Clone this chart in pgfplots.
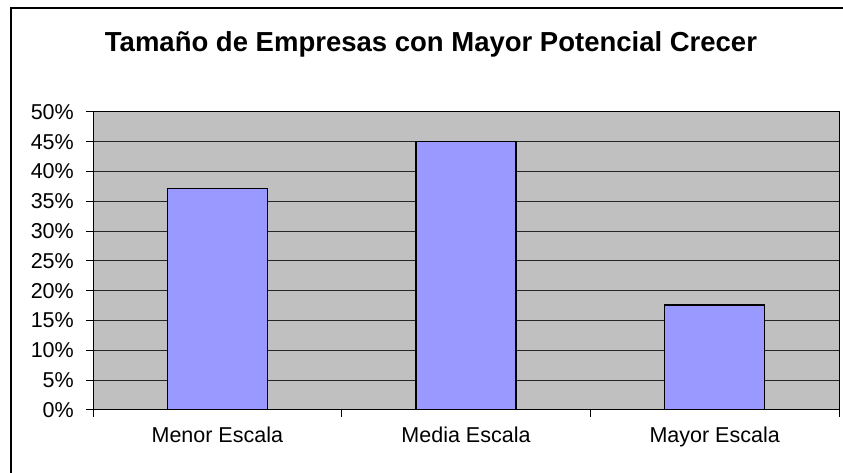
\documentclass[border=0pt]{standalone}
\usepackage{fontspec}
\setmainfont{Liberation Sans}
\usepackage{pgfplots}
\pgfplotsset{compat=1.18}
\definecolor{plotgray}{HTML}{C0C0C0}
\definecolor{barblue}{HTML}{9999FF}
\begin{document}
\begin{tikzpicture}[x=1pt,y=1pt]
\begin{axis}[
 at={(93pt,63pt)}, anchor=south west,
 scale only axis, width=746pt, height=298pt,
 xmin=0.5, xmax=3.5, ymin=0, ymax=50,
 axis background/.style={fill=plotgray},
 axis line style={black, line width=1pt},
 ybar, bar width=100pt,
 ytick={0,5,...,50},
 yticklabels={0\%,5\%,10\%,15\%,20\%,25\%,30\%,35\%,40\%,45\%,50\%},
 ymajorgrids, grid style={black!85, line width=1pt},
 xtick={0.5,1.5,2.5,3.5}, xticklabels={},
 extra x ticks={1,2,3},
 extra x tick labels={Menor Escala, Media Escala, Mayor Escala},
 extra x tick style={major tick length=0pt, grid=none},
 xtick pos=bottom, ytick pos=left,
 tick align=outside, major tick length=7pt,
 tick style={black, line width=1pt},
 ticklabel style={font=\fontsize{21.5}{24}\selectfont, inner sep=0pt},
 xticklabel style={yshift=-17pt},
 yticklabel style={xshift=-12pt},
]
\addplot[fill=barblue, draw=black, line width=1.3pt] coordinates {(1,37.2) (2,45) (3,17.6)};
\end{axis}
\node[font=\bfseries\fontsize{27.5}{30}\selectfont, anchor=base] at (431,421) {Tamaño de Empresas con Mayor Potencial Crecer};
\draw[line width=1.3pt] (11,-5) -- (11,465) -- (850,465);
\pgfresetboundingbox
\useasboundingbox (0,0) rectangle (843,473);
\end{tikzpicture}
\end{document}
